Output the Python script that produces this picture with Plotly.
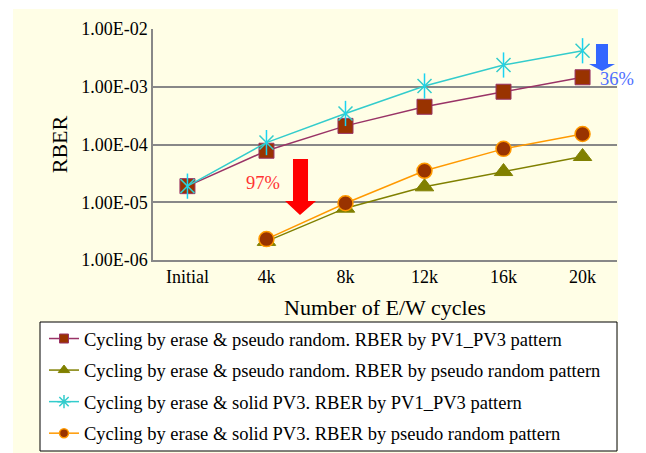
import plotly.graph_objects as go

# E/W cycle categories
cycles = ['Initial', '4k', '8k', '12k', '16k', '20k']

# RBER values
erase_pr_pv13 = [1.9e-5, 7.8e-5, 2.1e-4, 4.5e-4, 8.2e-4, 1.46e-3]
erase_pr_pr = [None, 2.1e-6, 7.9e-6, 1.85e-5, 3.4e-5, 6.2e-5]
erase_pv3_pv13 = [1.9e-5, 1.08e-4, 3.45e-4, 1.03e-3, 2.38e-3, 4.2e-3]
erase_pv3_pr = [None, 2.3e-6, 9.6e-6, 3.5e-5, 8.4e-5, 1.52e-4]

series_names = [
    'Cycling by erase & pseudo random. RBER by PV1_PV3 pattern',
    'Cycling by erase & pseudo random. RBER by pseudo random pattern',
    'Cycling by erase & solid PV3. RBER by PV1_PV3 pattern',
    'Cycling by erase & solid PV3. RBER by pseudo random pattern',
]

y_tick_vals = [1e-6, 1e-5, 1e-4, 1e-3, 1e-2]
y_tick_text = ['1.00E-06', '1.00E-05', '1.00E-04', '1.00E-03', '1.00E-02']

FONT = 'Liberation Serif, Times New Roman, serif'
FS = 18.5

# the page body adds an 8px margin, so the figure is drawn 8px smaller
OFF = 8
W, H = 646 - OFF, 453 - OFF
# plot area in screen pixels: x 153..617, y 29..260
PL, PR, PT, PB = 153, 617, 29, 260
PW, PH = PR - PL, PB - PT


def px(x):
    return (x - PL) / PW


def py(y):
    return (PB - y) / PH


CYAN = '#33CCCC'
styles = [
    dict(line=dict(color='#993366', width=1.5),
         marker=dict(symbol='square', color='#993300',
                     line=dict(color='#993366', width=1))),
    dict(line=dict(color='#808000', width=1.5),
         marker=dict(symbol='triangle-up', color='#808000',
                     line=dict(color='#808000', width=1))),
    dict(line=dict(color=CYAN, width=1.5),
         marker=dict(symbol='x-thin-open', line=dict(color=CYAN, width=1.5))),
    dict(line=dict(color='#FF9900', width=1.5),
         marker=dict(symbol='circle', color='#993300',
                     line=dict(color='#FF9900', width=1.5))),
]
plot_sizes = [15, 16, 14, 15]
legend_sizes = [9, 10, 11, 9]

fig = go.Figure()

for i, ys in enumerate([erase_pr_pv13, erase_pr_pr, erase_pv3_pv13, erase_pv3_pr]):
    st = styles[i]
    fig.add_trace(go.Scatter(
        x=cycles, y=ys, mode='lines+markers', showlegend=False,
        line=st['line'], marker=dict(st['marker'], size=plot_sizes[i]),
    ))
    if i == 2:
        # vertical arm of the six-armed star marker
        fig.add_trace(go.Scatter(
            x=cycles, y=ys, mode='markers', showlegend=False,
            marker=dict(symbol='line-ns-open', size=18,
                        line=dict(color=CYAN, width=1.5)),
        ))
    # legend entry with smaller marker, like the original
    leg_marker = dict(st['marker'], size=legend_sizes[i])
    if i == 2:
        leg_marker['symbol'] = 'asterisk-open'
    fig.add_trace(go.Scatter(
        x=[None], y=[None], name=series_names[i], mode='lines+markers',
        line=st['line'], marker=leg_marker, legendgroup=str(i),
    ))


def path(points):
    return 'M ' + ' L '.join(f'{px(x):.4f},{py(y):.4f}' for x, y in points) + ' Z'


shapes = [
    # pale yellow chart area
    dict(type='rect', xref='paper', yref='paper', layer='below',
         x0=px(13), x1=px(618), y0=py(470), y1=py(9),
         fillcolor='#FFFEE6', line=dict(width=0)),
    # legend frame
    dict(type='rect', xref='paper', yref='paper',
         x0=px(40), x1=px(617), y0=py(451), y1=py(322),
         fillcolor='white', line=dict(color='black', width=1), layer='below'),
    # red block arrow
    dict(type='path', xref='paper', yref='paper',
         path=path([(293, 159), (308, 159), (308, 201), (316, 201),
                    (300, 215), (285, 201), (293, 201)]),
         fillcolor='#FF0000', line=dict(width=0)),
    # blue block arrow
    dict(type='path', xref='paper', yref='paper',
         path=path([(596, 44), (608, 44), (608, 64), (615, 64),
                    (602, 71), (589, 64), (596, 64)]),
         fillcolor='#3366FF', line=dict(width=0)),
]

annotations = [
    dict(x=px(263), y=py(183), xref='paper', yref='paper', text='97%',
         xanchor='center', yanchor='middle', showarrow=False,
         font=dict(family=FONT, size=FS, color='#FF3333')),
    dict(x=px(617), y=py(79), xref='paper', yref='paper', text='36%',
         xanchor='center', yanchor='middle', showarrow=False,
         font=dict(family=FONT, size=FS, color='#4D6EFF')),
]

fig.update_layout(
    width=W, height=H,
    margin=dict(l=PL - OFF, r=W - (PR - OFF), t=PT - OFF, b=H - (PB - OFF),
                autoexpand=False),
    paper_bgcolor='white', plot_bgcolor='white',
    font=dict(family=FONT, size=FS, color='black'),
    shapes=shapes, annotations=annotations,
    showlegend=True,
    legend=dict(x=px(44), y=py(320), xanchor='left', yanchor='top',
                bgcolor='rgba(0,0,0,0)', borderwidth=0,
                font=dict(family=FONT, size=FS),
                traceorder='grouped', tracegroupgap=4.5, itemwidth=30),
    xaxis=dict(
        type='category', title=dict(text='Number of E/W cycles', standoff=13),
        showline=True, linecolor='#888888', linewidth=1.5,
        showgrid=False, ticks='', tickfont=dict(size=18),
    ),
    yaxis=dict(
        type='log', range=[-6, -2], title=dict(text='RBER', standoff=7),
        tickvals=y_tick_vals, ticktext=y_tick_text, tickfont=dict(size=18),
        showgrid=True, gridcolor='#888888', gridwidth=1.5,
        showline=True, linecolor='#888888', linewidth=1.5,
        ticks='', zeroline=False,
    ),
)

fig.write_html('out.html')
